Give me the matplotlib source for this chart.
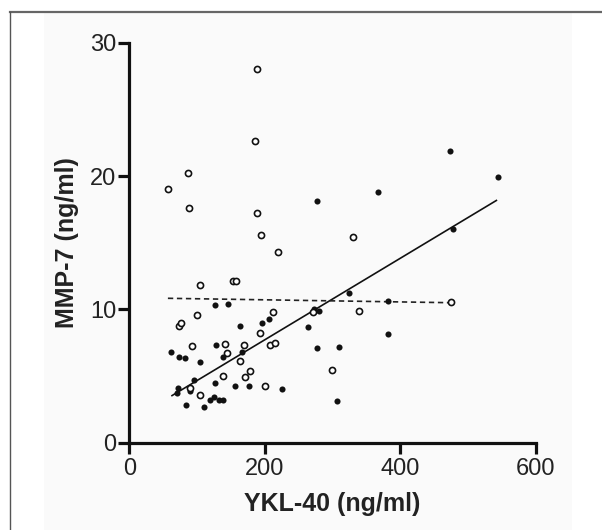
import matplotlib
matplotlib.use("Agg")
import matplotlib.pyplot as plt
from matplotlib.patches import Rectangle
from matplotlib.lines import Line2D

plt.rcParams['font.family'] = ['Liberation Sans', 'DejaVu Sans']

# filled dots (group 1)
filled_x = [473.5, 544, 366.8, 277, 478, 324, 382.5, 127, 146, 272, 280, 196, 206, 164,
            264.5, 381.5, 61, 73, 82, 105, 127.5, 138, 167, 276.5, 310, 96, 127, 156.5,
            176.5, 225, 71.5, 70, 89, 84, 110, 119.5, 125, 132, 138, 307]
filled_y = [21.85, 19.9, 18.8, 18.1, 16.0, 11.2, 10.6, 10.3, 10.4, 10.0, 9.9, 8.95, 9.25, 8.75,
            8.7, 8.15, 6.8, 6.45, 6.35, 6.05, 7.35, 6.45, 6.8, 7.1, 7.2, 4.7, 4.45, 4.25,
            4.25, 4.05, 4.1, 3.75, 3.9, 2.85, 2.65, 3.2, 3.4, 3.2, 3.2, 3.1]

# open circles (group 2)
open_x = [189, 185.6, 86.4, 57, 88.4, 188.6, 194.5, 220, 330, 105, 153, 158, 474.4, 339.6,
          99.7, 73, 77, 211.8, 93.3, 141, 144.6, 168.8, 192.5, 208, 214.7, 163.3, 139,
          178.7, 170.8, 200.8, 90.3, 104, 271.5, 299]
open_y = [28.05, 22.65, 20.25, 19.0, 17.6, 17.25, 15.6, 14.3, 15.4, 11.8, 12.15, 12.15, 10.55, 9.85,
          9.6, 8.75, 8.95, 9.8, 7.25, 7.4, 6.75, 7.3, 8.2, 7.3, 7.45, 6.1, 5.0,
          5.4, 4.9, 4.25, 4.1, 3.55, 9.8, 5.45]

# regression lines (end points)
fit_filled_x = [62, 543]
fit_filled_y = [3.5, 18.2]
fit_open_x = [57, 474]
fit_open_y = [10.83, 10.5]

x_ticks = [0, 200, 400, 600]
y_ticks = [0, 10, 20, 30]

fig = plt.figure(figsize=(6.02, 5.30), dpi=100)

# frame / panel like the source image
fig.add_artist(Rectangle((44 / 602, 0), 528 / 602, 517 / 530, transform=fig.transFigure,
                         facecolor='#fafafa', edgecolor='none', zorder=0))
fig.add_artist(Line2D([10 / 602, 1], [1 - 12 / 530, 1 - 12 / 530], transform=fig.transFigure,
                      color='#666666', lw=1.6))
fig.add_artist(Line2D([10 / 602, 10 / 602], [0, 1 - 12 / 530], transform=fig.transFigure,
                      color='#555555', lw=1.0))

ax = fig.add_axes([129.3 / 602, 87.3 / 530, 406.4 / 602, 400 / 530])
ax.set_facecolor('none')

ax.plot(fit_filled_x, fit_filled_y, color='#111111', lw=1.2, solid_capstyle='butt')
ax.plot(fit_open_x, fit_open_y, color='#222222', lw=1.2, dashes=(3.2, 2.2))

ax.plot(filled_x, filled_y, linestyle='none', marker='o', markersize=4.4,
        color='#111111', markeredgewidth=0, clip_on=False)
ax.plot(open_x, open_y, linestyle='none', marker='o', markersize=4.4,
        markerfacecolor='white', markeredgecolor='#111111', markeredgewidth=1.2, clip_on=False)

ax.set_xlim(0, 600)
ax.set_ylim(0, 30)
ax.set_xticks(x_ticks)
ax.set_yticks(y_ticks)

for side in ['top', 'right']:
    ax.spines[side].set_visible(False)
for side in ['left', 'bottom']:
    ax.spines[side].set_linewidth(2.3)
    ax.spines[side].set_color('#111111')
    ax.spines[side].set_capstyle('projecting')

ax.tick_params(axis='both', direction='out', length=8, width=2.3, color='#111111',
               labelsize=17, labelcolor='#222222')
ax.tick_params(axis='y', pad=1.5)
ax.tick_params(axis='x', pad=3)

ax.set_xlabel('YKL-40 (ng/ml)', fontsize=18, fontweight='bold', color='#222222')
ax.set_ylabel('MMP-7 (ng/ml)', fontsize=18, fontweight='bold', color='#222222')
ax.xaxis.set_label_coords(0.5, -0.123)
ax.yaxis.set_label_coords(-0.124, 0.5)

fig.savefig('out.png', dpi=100)
